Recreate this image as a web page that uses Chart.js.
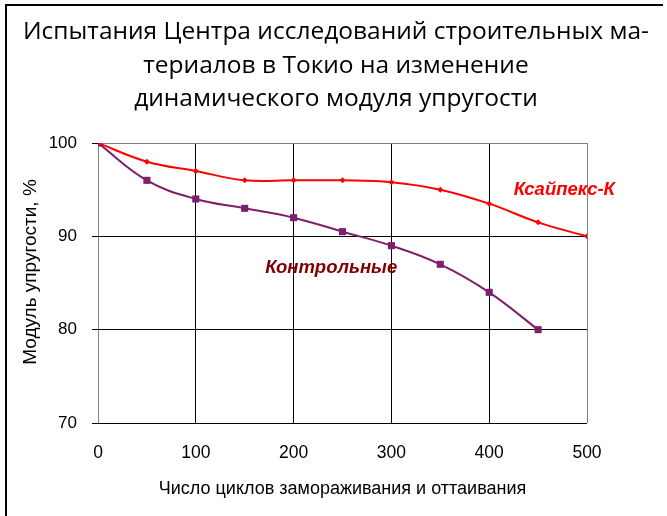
<!DOCTYPE html>
<html>
<head>
<meta charset="utf-8">
<script src="https://cdn.jsdelivr.net/npm/chart.js@4.4.1/dist/chart.umd.min.js"></script>
<style>
  body { margin: 0; background: #fff; }
  canvas { display: block; }
</style>
</head>
<body>
<canvas id="modulusChart" width="667" height="516"></canvas>
<script>
// data
const cycles = [0, 50, 100, 150, 200, 250, 300, 350, 400, 450, 500];
const xaipexValues = [100, 98, 97, 96, 96, 96, 95.8, 95, 93.5, 91.5, 90];
const controlValues = [100, 96, 94, 93, 92, 90.5, 89, 87, 84, 80];
const xTicks = [0, 100, 200, 300, 400, 500];
const yTicks = [70, 80, 90, 100];

const titleLines = [
  "Испытания Центра исследований строительных ма-",
  "териалов в Токио на изменение",
  "динамического модуля упругости"
];
const yTitle = "Модуль упругости, %";
const xTitle = "Число циклов замораживания и оттаивания";
const seriesNames = ["Ксайпекс-К", "Контрольные"];

const toPoints = vals => vals.map((v, i) => ({ x: cycles[i], y: v }));

// title, frame, y axis title and the in-plot series labels
const decorPlugin = {
  id: "decor",
  afterDraw(chart) {
    const ctx = chart.ctx;
    const xs = chart.scales.x, ys = chart.scales.y;
    ctx.save();
    // frame (top + left)
    ctx.fillStyle = "#000";
    ctx.fillRect(5, 4, 658, 2);
    ctx.fillRect(5, 4, 2, 512);

    // title
    ctx.font = "24.5px 'Open Sans'";
    ctx.textAlign = "center";
    ctx.textBaseline = "alphabetic";
    const baselines = [39, 72.5, 106];
    titleLines.forEach((t, i) => ctx.fillText(t, 336, baselines[i]));

    // y axis title
    ctx.save();
    ctx.translate(31, 272);
    ctx.rotate(-Math.PI / 2);
    ctx.font = "19px 'Liberation Sans'";
    ctx.textBaseline = "middle";
    ctx.fillText(yTitle, 0, 0);
    ctx.restore();

    // series labels
    ctx.font = "italic bold 18.5px 'Liberation Sans'";
    ctx.textAlign = "left";
    ctx.textBaseline = "middle";
    ctx.fillStyle = "#ff0000";
    ctx.fillText(seriesNames[0], xs.getPixelForValue(425), ys.getPixelForValue(95));
    ctx.fillStyle = "#800000";
    ctx.fillText(seriesNames[1], xs.getPixelForValue(171), ys.getPixelForValue(86.6));
    ctx.restore();
  }
};

const edgeGrid = (edges) => c => edges.includes(c.tick && c.tick.value) ? "#808080" : "#000";

new Chart(document.getElementById("modulusChart"), {
  type: "line",
  data: {
    datasets: [{
      label: seriesNames[0],
      data: toPoints(xaipexValues),
      borderColor: "#ff0000",
      backgroundColor: "#ff0000",
      borderWidth: 2,
      pointStyle: "rectRot",
      pointRadius: 3,
      pointBorderWidth: 0,
      tension: 0.4,
      fill: false
    }, {
      label: seriesNames[1],
      data: toPoints(controlValues),
      borderColor: "#7f1f6b",
      backgroundColor: "#7f1f6b",
      borderWidth: 2,
      pointStyle: "rect",
      pointRadius: 5,
      pointBorderWidth: 0,
      tension: 0.4,
      fill: false
    }]
  },
  options: {
    responsive: false,
    animation: false,
    layout: { padding: { top: 143, right: 80, left: 0, bottom: 0 } },
    plugins: {
      legend: { display: false },
      tooltip: { enabled: false }
    },
    scales: {
      x: {
        type: "linear",
        min: 0,
        max: 500,
        afterBuildTicks: s => { s.ticks = xTicks.map(v => ({ value: v })); },
        afterFit: s => { s.height = 93; },
        grid: { color: edgeGrid([0, 500]), lineWidth: 1, drawTicks: false },
        border: { display: false },
        ticks: { color: "#000", padding: 20, maxRotation: 0, font: { family: "Liberation Sans", size: 17.5 } },
        title: {
          display: true,
          text: xTitle,
          color: "#000",
          font: { family: "Liberation Sans", size: 18 },
          padding: { top: 0, bottom: 16 }
        }
      },
      y: {
        min: 70,
        max: 100,
        afterBuildTicks: s => { s.ticks = yTicks.map(v => ({ value: v })); },
        afterFit: s => { s.width = 98; },
        grid: { color: edgeGrid([100]), lineWidth: 1, tickLength: 6, tickColor: "#000" },
        border: { display: false },
        ticks: { color: "#000", padding: 15, font: { family: "Liberation Sans", size: 17 } }
      }
    }
  },
  plugins: [decorPlugin]
});
</script>
</body>
</html>
